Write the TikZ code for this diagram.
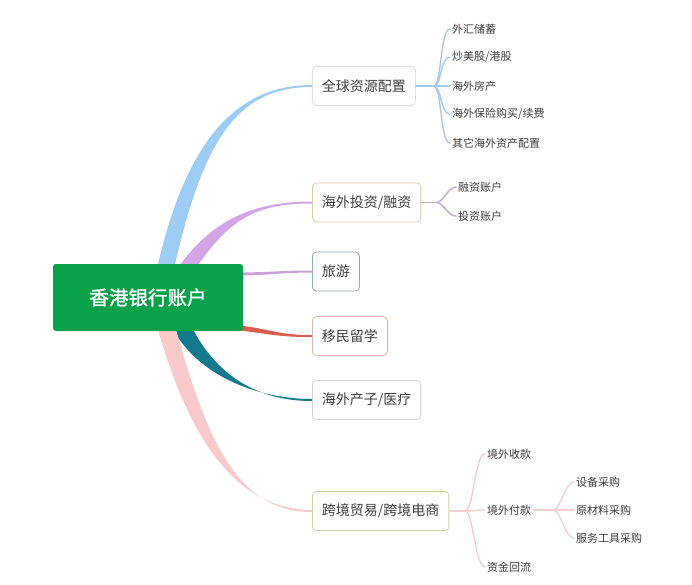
\documentclass[tikz,border=0pt]{standalone}
\usepackage{fontspec}
\newfontfamily\cjk{Noto Sans CJK SC}
\newfontfamily\cjkheavy[FakeBold=1.3]{Noto Sans CJK SC}
\usetikzlibrary{calc,backgrounds}

\definecolor{rootgreen}{HTML}{0AA14B}
\definecolor{txtgray}{HTML}{3F3F3F}
\definecolor{brblue}{HTML}{9DCDF5}
\definecolor{brpurple}{HTML}{D3A4E6}
\definecolor{brlilac}{HTML}{C8A2DA}
\definecolor{brred}{HTML}{D6604A}
\definecolor{brteal}{HTML}{127A8C}
\definecolor{brpink}{HTML}{F9CACA}
\definecolor{lnblue}{HTML}{A6CBE8}
\definecolor{lnpurple}{HTML}{C9A8D6}
\definecolor{lnpink}{HTML}{F4CFCF}
\definecolor{bdpink}{HTML}{EBDADD}
\definecolor{bdtan}{HTML}{E2C9A4}
\definecolor{bdslate}{HTML}{8FAAB3}
\definecolor{bdrose}{HTML}{DDB8AC}
\definecolor{bdlilac}{HTML}{DCCDE2}
\definecolor{bdolive}{HTML}{CAD5A6}

\tikzset{
	rootbox/.style={fill=rootgreen, rounded corners=3pt, minimum width=190pt, minimum height=67pt, text=white, font=\cjkheavy\fontsize{19.5}{22}\selectfont},
	topic/.style={draw=#1, line width=0.8pt, fill=white, rounded corners=4pt, anchor=west, inner xsep=9.5pt, minimum height=39pt, text=txtgray, font=\cjk\fontsize{14}{16}\selectfont},
	leaf/.style={anchor=west, inner sep=2pt, text=txtgray, font=\cjk\fontsize{11}{13}\selectfont},
	fork/.style={draw=#1, line width=1.4pt, line cap=round},
}

% tapered branch: style, start A, start B, end point, control from start, control from end
\newcommand\trunk[6]{\fill[#1] (#2) .. controls +(#5) and +(#6) .. ($(#4)+(0,-1)$) -- ($(#4)+(0,1)$) .. controls +(#6) and +(#5) .. (#3) -- cycle;}

\begin{document}
\begin{tikzpicture}[x=1pt, y=-1pt]
	\useasboundingbox (0,0) rectangle (692,584);
	\node[rootbox] (root) at (148,297.5) {香港银行账户};

	\node[topic=bdpink] (qq) at (312,86) {全球资源配置};
	\node[topic=bdtan] (tz) at (312,202.5) {海外投资/融资};
	\node[topic=bdslate] (ly) at (312,271.5) {旅游};
	\node[topic=bdrose] (ym) at (312,336) {移民留学};
	\node[topic=bdlilac] (cz) at (312,400) {海外产子/医疗};
	\node[topic=bdolive] (kj) at (312,511) {跨境贸易/跨境电商};

	\node[leaf] (qq1) at (450,29) {外汇储蓄};
	\node[leaf] (qq2) at (450,57) {炒美股/港股};
	\node[leaf] (qq3) at (450,86) {海外房产};
	\node[leaf] (qq4) at (450,114) {海外保险购买/续费};
	\node[leaf] (qq5) at (450,143) {其它海外资产配置};

	\node[leaf] (tz1) at (456,187) {融资账户};
	\node[leaf] (tz2) at (456,216) {投资账户};

	\node[leaf] (kj1) at (485,454) {境外收款};
	\node[leaf] (kj2) at (485,510) {境外付款};
	\node[leaf] (kj3) at (485,567) {资金回流};

	\node[leaf] (fk1) at (574,482) {设备采购};
	\node[leaf] (fk2) at (574,510) {原材料采购};
	\node[leaf] (fk3) at (574,538) {服务工具采购};

	% forks to the leaves
	\coordinate (qqf) at ($(qq.east)+(18,0)$);
	\coordinate (tzf) at ($(tz.east)+(15,0)$);
	\coordinate (kjf) at ($(kj.east)+(16,0)$);
	\coordinate (fkf) at ($(kj2.east)+(20,0)$);
	\draw[fork=lnblue] (qq.east) -- (qqf);
	\foreach \i in {1,...,5}
		\draw[fork=lnblue] (qqf) .. controls +(8,0) and +(-10,0) .. (qq\i.west);
	\draw[fork=lnpurple] (tz.east) -- (tzf);
	\foreach \i in {1,2}
		\draw[fork=lnpurple] (tzf) .. controls +(7,0) and +(-8,0) .. (tz\i.west);
	\draw[fork=lnpink] (kj.east) -- (kjf);
	\foreach \i in {1,2,3}
		\draw[fork=lnpink] (kjf) .. controls +(8,0) and +(-10,0) .. (kj\i.west);
	\draw[fork=lnpink] (kj2.east) -- (fkf);
	\foreach \i in {1,2,3}
		\draw[fork=lnpink] (fkf) .. controls +(7,0) and +(-9,0) .. (fk\i.west);

	% main branches, behind the boxes
	\begin{scope}[on background layer]
		\fill[white] (0,0) rectangle (692,584);
		\coordinate (b1a) at ($(root.north west)+(104,6)$);
		\coordinate (b1b) at ($(root.north west)+(121,6)$);
		\coordinate (b2a) at ($(root.north west)+(124,6)$);
		\coordinate (b2b) at ($(root.north west)+(142,6)$);
		\coordinate (b3a) at ($(root.east)+(-6,-25)$);
		\coordinate (b3b) at ($(root.east)+(-6,-22)$);
		\coordinate (b4a) at ($(root.south east)+(-6,-6)$);
		\coordinate (b4b) at ($(root.south east)+(-6,-1)$);
		\coordinate (b5a) at ($(root.south west)+(118,-6)$);
		\coordinate (b5b) at ($(root.south west)+(138,-6)$);
		\coordinate (b6a) at ($(root.south west)+(104,-6)$);
		\coordinate (b6b) at ($(root.south west)+(122,-6)$);
		\trunk{brblue}{b1a}{b1b}{qq.west}{30,-135}{-72,0}
		\trunk{brpurple}{b2a}{b2b}{tz.west}{35,-52}{-55,0}
		\trunk{brlilac}{b3a}{b3b}{ly.west}{30,0}{-30,0}
		\trunk{brred}{b4a}{b4b}{ym.west}{35,4}{-35,0}
		\trunk{brteal}{b5a}{b5b}{cz.west}{25,50}{-55,0}
		\trunk{brpink}{b6a}{b6b}{kj.west}{32,115}{-75,0}
	\end{scope}
\end{tikzpicture}
\end{document}
